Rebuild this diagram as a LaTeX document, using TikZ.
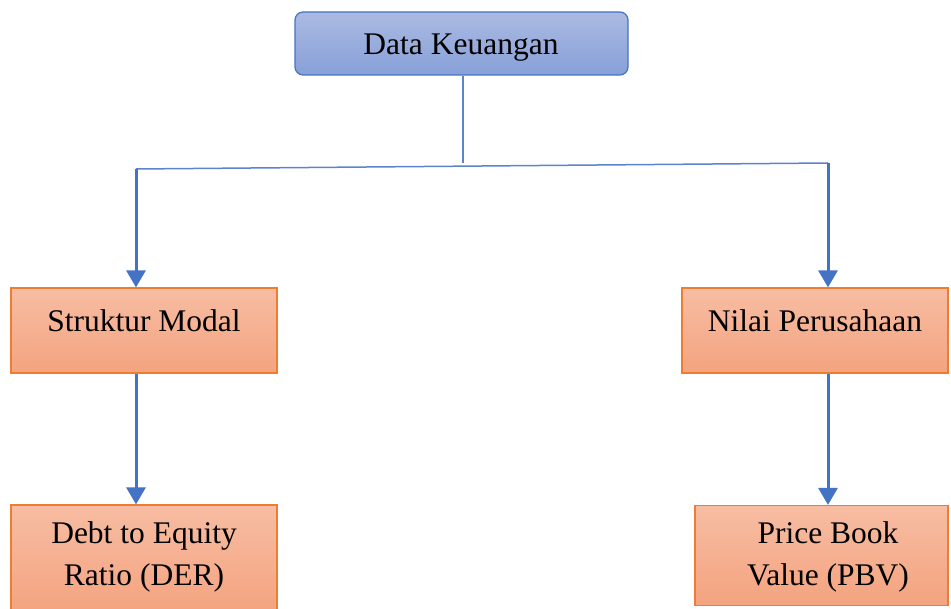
\documentclass[tikz,border=0pt]{standalone}
\usepackage{fontspec}
\setmainfont{Liberation Serif}
\usetikzlibrary{arrows.meta}
\definecolor{bluebd}{HTML}{4472C4}
\definecolor{bluetop}{HTML}{AABAE2}
\definecolor{bluebot}{HTML}{87A0D8}
\definecolor{orbd}{HTML}{ED7D31}
\definecolor{ortop}{HTML}{F7BDA3}
\definecolor{orbot}{HTML}{F4A37F}
\definecolor{linecol}{HTML}{5B84CC}
\tikzset{
  bluebox/.style={draw=bluebd, line width=1.2pt, rounded corners=8pt, top color=bluetop, bottom color=bluebot, inner sep=0pt},
  orbox/.style={draw=orbd, line width=1.2pt, top color=ortop, bottom color=orbot, inner sep=0pt},
  lbl/.style={font=\fontsize{31.5}{42}\selectfont, anchor=base, inner sep=0pt, align=center},
  conn/.style={draw=linecol, line width=1.5pt},
  arr/.style={draw=bluebd, line width=3pt, -{Triangle[width=19pt,length=17pt]}}
}
\begin{document}
\begin{tikzpicture}[x=1pt,y=-1pt]
\useasboundingbox (0,0) rectangle (951,609);
% boxes
\node[bluebox, minimum width=333pt, minimum height=63pt] (dk) at (461.5,43.5) {};
\node[orbox, minimum width=266pt, minimum height=85pt] (sm) at (144,330.5) {};
\node[orbox, minimum width=266pt, minimum height=85pt] (np) at (815,330.5) {};
\node[orbox, minimum width=266pt, minimum height=108pt] (der) at (144,559) {};
\node[orbox, minimum width=253pt, minimum height=100pt] (pbv) at (821.5,555.5) {};
% labels
\node[lbl] (tdk) at (461,55) {Data Keuangan};
\node[lbl] (tsm) at (144,332) {Struktur Modal};
\node[lbl] (tnp) at (815,332) {Nilai Perusahaan};
\node[lbl] (tder) at (144,585) {Debt to Equity\\Ratio (DER)};
\node[lbl] (tpbv) at (828,585) {Price Book\\Value (PBV)};
% connector coordinates
\coordinate (mid) at (463,163);
\coordinate (jl) at (136,169);
\coordinate (jr) at (828,163);
\draw[conn] (dk.south -| mid) -- (mid);
\draw[conn] (jl) -- (jr);
\draw[arr] (jl) -- (jl |- sm.north);
\draw[arr] (jr) -- (jr |- np.north);
\draw[arr] (sm.south -| jl) -- (der.north -| jl);
\draw[arr] (np.south -| jr) -- (pbv.north -| jr);
\end{tikzpicture}
\end{document}
